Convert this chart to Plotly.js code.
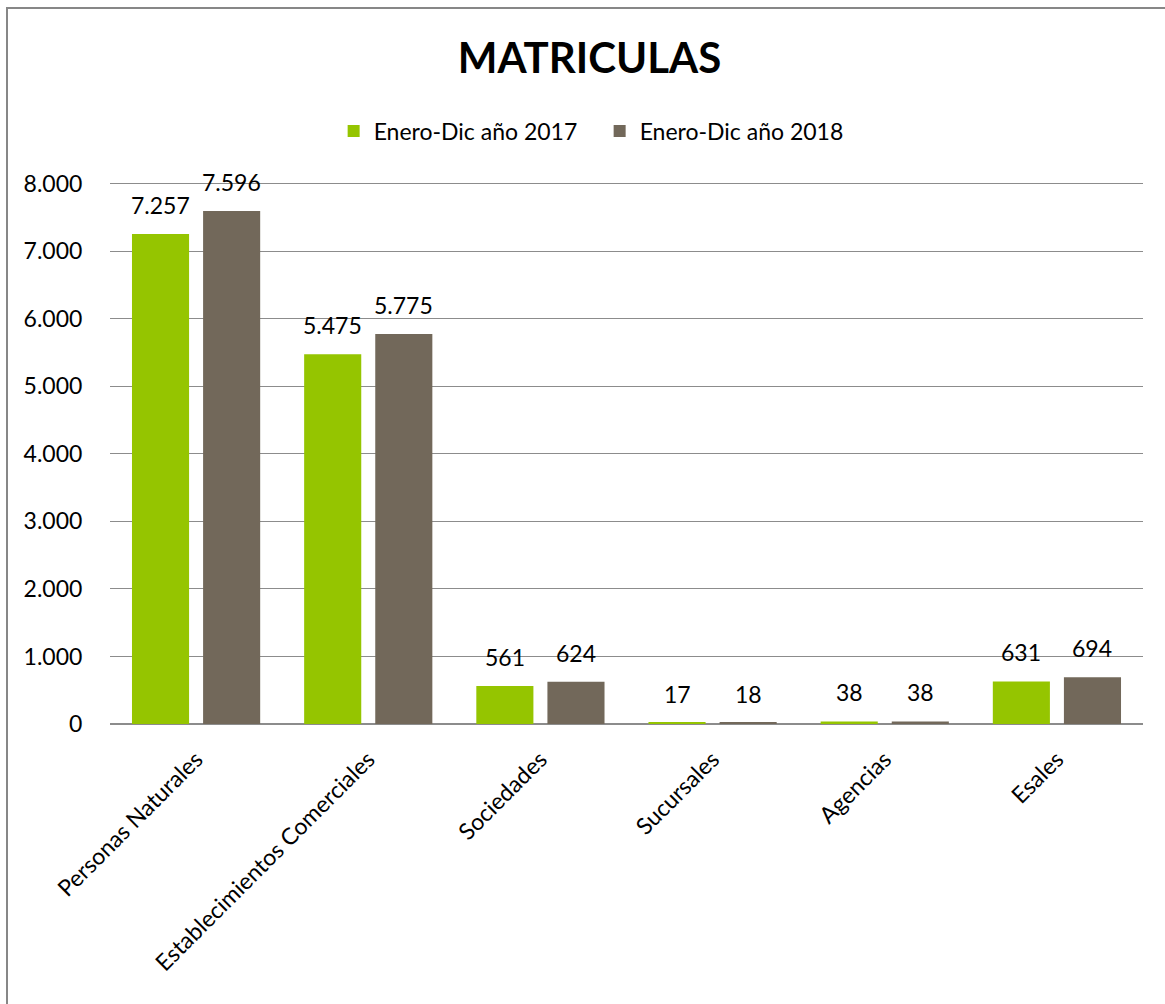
<!DOCTYPE html>
<html>
<head>
<meta charset="utf-8">
<script src="https://cdn.plot.ly/plotly-3.0.1.min.js"></script>
<style>
html,body{margin:0;padding:0;background:#fff;}
#wrap{position:relative;width:1165px;height:1004px;overflow:hidden;}
#chart{width:1165px;height:1004px;}
#frame{position:absolute;left:6px;top:7px;width:2000px;height:2000px;border-left:2px solid #878787;border-top:2px solid #878787;pointer-events:none;}
</style>
</head>
<body>
<div id="wrap"><div id="chart"></div><div id="frame"></div></div>
<script>
const categories = ["Personas Naturales","Establecimientos Comerciales","Sociedades","Sucursales","Agencias","Esales"];
const seriesNames = ["Enero-Dic año 2017","Enero-Dic año 2018"];
const values2017 = [7257, 5475, 561, 17, 38, 631];
const values2018 = [7596, 5775, 624, 18, 38, 694];
const yTicks = [0,1000,2000,3000,4000,5000,6000,7000,8000];
const colors = ["#95C500","#72685A"];

const FONT = "Lato, 'Open Sans', sans-serif";
const fmt = v => v.toLocaleString('de-DE');

const traces = [values2017, values2018].map((vals, i) => ({
  type: 'bar',
  name: seriesNames[i],
  x: categories,
  y: vals,
  marker: {color: colors[i]},
  hoverinfo: 'x+y'
}));

const annotations = [];
[values2017, values2018].forEach((vals, i) => {
  vals.forEach((v, j) => {
    annotations.push({
      x: categories[j], y: v, xref: 'x', yref: 'y',
      text: fmt(v), showarrow: false,
      xanchor: 'center', yanchor: 'bottom',
      xshift: i === 0 ? -35.5 : 35.5, yshift: 13,
      font: {family: FONT, size: 23, color: '#000'}
    });
  });
});

const layout = {
  width: 1165, height: 1004,
  margin: {l: 110, r: 22, t: 181, b: 280},
  paper_bgcolor: '#fff', plot_bgcolor: '#fff',
  separators: ',.',
  font: {family: FONT, size: 23, color: '#000'},
  title: {text: '<b>MATRICULAS</b>', x: 0.506, xref: 'container', xanchor: 'center', y: 0.942, yref: 'container', yanchor: 'middle',
          font: {family: FONT, size: 42, color: '#000'}},
  showlegend: true,
  legend: {orientation: 'h', x: 0.474, xanchor: 'center', y: 1.092, yanchor: 'middle', entrywidth: 221,
           font: {family: FONT, size: 23, color: '#000'}, traceorder: 'normal', itemclick: false},
  barmode: 'group', bargap: 0.174, bargroupgap: 0.197,
  xaxis: {type: 'category', tickangle: -45, showgrid: false, showline: false, zeroline: false,
          ticks: 'outside', ticklen: 12, tickcolor: 'rgba(0,0,0,0)',
          tickfont: {family: FONT, size: 23, color: '#000'}, automargin: false},
  yaxis: {range: [0, 8040], tickvals: yTicks, ticktext: yTicks.map(fmt), showgrid: true, gridcolor: '#8c8c8c', gridwidth: 1,
          zeroline: true, zerolinecolor: '#8c8c8c', zerolinewidth: 1.5, showline: false,
          ticks: 'outside', ticklen: 22, tickcolor: 'rgba(0,0,0,0)',
          tickfont: {family: FONT, size: 23, color: '#000'}, automargin: false},
  annotations: annotations
};

Plotly.newPlot('chart', traces, layout, {displayModeBar: false, staticPlot: false});
</script>
</body>
</html>
